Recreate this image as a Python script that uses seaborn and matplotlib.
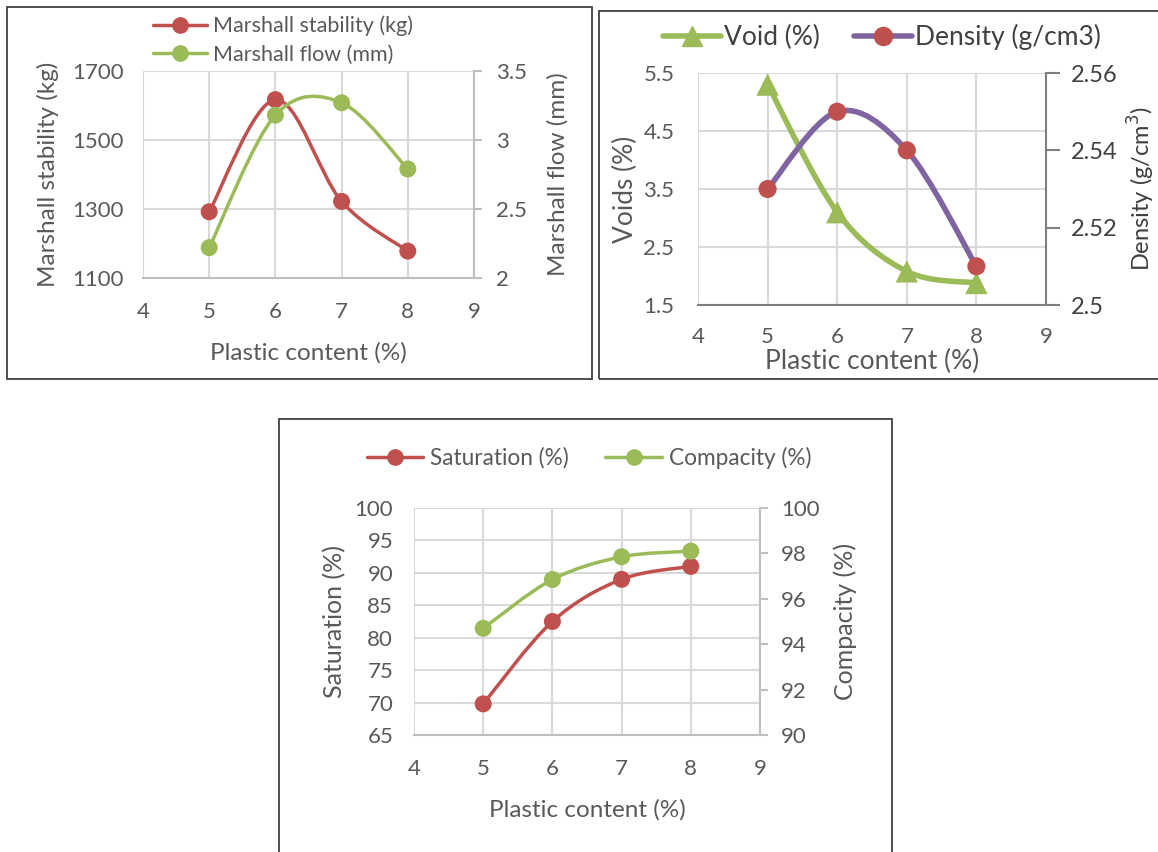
import numpy as np
import pandas as pd
import matplotlib
matplotlib.use("Agg")
import matplotlib.pyplot as plt
import seaborn as sns
from matplotlib.path import Path
from matplotlib.patches import PathPatch, Rectangle
from matplotlib.lines import Line2D

# ---- data ----
plastic = [5, 6, 7, 8]
stability = [1292, 1617, 1322, 1178]
flow = [2.22, 3.18, 3.27, 2.79]
void = [5.3, 3.1, 2.08, 1.88]
density = [2.53, 2.55, 2.54, 2.51]
saturation = [69.8, 82.5, 89.0, 91.0]
compacity = [94.7, 96.85, 97.85, 98.1]
x_ticks = [4, 5, 6, 7, 8, 9]

sns.set_theme(style="white")
plt.rcParams['font.family'] = ['Lato', 'DejaVu Sans']

RED = '#C0504D'
GREEN = '#9BBB59'
PURPLE = '#8064A2'
TXT = '#595959'
GRID = '#D9D9D9'
AX = '#BFBFBF'
DARK = '#404040'

W, H = 1158, 852
fig = plt.figure(figsize=(W / 100, H / 100), dpi=100)


def px_axes(x0, y0, x1, y1):
    return fig.add_axes([x0 / W, 1 - y1 / H, (x1 - x0) / W, (y1 - y0) / H])


def box(x0, y0, x1, y1):
    fig.patches.append(Rectangle((x0 / W, 1 - y1 / H), (x1 - x0) / W, (y1 - y0) / H,
                                 transform=fig.transFigure, fill=False,
                                 edgecolor='#404040', linewidth=1.3, zorder=0))


def smooth(ax, xs, ys, color, lw):
    # Excel-like smoothed line: cubic Bezier segments (Catmull-Rom tangents)
    P = np.column_stack([xs, ys]).astype(float)
    n = len(P)
    verts = [tuple(P[0])]
    codes = [Path.MOVETO]
    for i in range(n - 1):
        p0 = P[i - 1] if i > 0 else P[i]
        p3 = P[i + 2] if i + 2 < n else P[i + 1]
        c1 = P[i] + (P[i + 1] - p0) / 6.0
        c2 = P[i + 1] - (p3 - P[i]) / 6.0
        verts += [tuple(c1), tuple(c2), tuple(P[i + 1])]
        codes += [Path.CURVE4] * 3
    ax.add_patch(PathPatch(Path(verts, codes), facecolor='none', edgecolor=color,
                           linewidth=lw, capstyle='round', zorder=3))


def style_axes(ax, ax2, ylim, yticks, ylim2, yticks2, fs, tcol, acol,
               xpad, ypad, y2pad):
    ax.set_xlim(4, 9)
    ax.set_xticks(x_ticks)
    ax.set_ylim(*ylim)
    ax.set_yticks(yticks)
    ax2.set_ylim(*ylim2)
    ax2.set_yticks(yticks2)
    ax.grid(True, color=GRID, linewidth=1.5)
    ax.set_axisbelow(True)
    for a in (ax, ax2):
        for s in a.spines.values():
            s.set_visible(False)
        a.tick_params(labelsize=fs, colors=tcol)
    ax.spines['bottom'].set_visible(True)
    ax.spines['bottom'].set_color(acol)
    ax.spines['bottom'].set_linewidth(1.5)
    ax2.spines['right'].set_visible(True)
    ax2.spines['right'].set_color(acol)
    ax2.spines['right'].set_linewidth(1.5)
    ax.tick_params(axis='x', length=0, pad=xpad)
    ax.tick_params(axis='y', length=0, pad=ypad)
    ax2.tick_params(axis='y', length=6, width=1.5, color=acol, pad=y2pad, direction='out')


# ================= Panel 1 =================
box(7, 7, 592, 379)
ax1 = px_axes(143, 71, 474, 278)
ax1b = ax1.twinx()
df1 = pd.DataFrame({'x': plastic, 'stab': stability, 'flow': flow})
smooth(ax1, plastic, stability, RED, 2.5)
sns.scatterplot(data=df1, x='x', y='stab', ax=ax1, color=RED, s=150, edgecolor='none', zorder=4)
smooth(ax1b, plastic, flow, GREEN, 2.5)
sns.scatterplot(data=df1, x='x', y='flow', ax=ax1b, color=GREEN, s=150, edgecolor='none', zorder=4)
style_axes(ax1, ax1b, (1100, 1700), [1100, 1300, 1500, 1700], (2, 3.5), [2, 2.5, 3, 3.5],
           16, TXT, AX, xpad=17, ypad=14, y2pad=10)
ax1b.set_yticklabels(['2', '2.5', '3', '3.5'])
ax1.set_xlabel('Plastic content (%)', fontsize=17.5, color=TXT, labelpad=15)
ax1.set_ylabel('Marshall stability (kg)', fontsize=17.5, color=TXT, labelpad=9)
ax1b.set_ylabel('Marshall flow (mm)', fontsize=17.5, color=TXT, labelpad=14)
h1 = [Line2D([], [], color=RED, lw=2.5, marker='o', ms=11),
      Line2D([], [], color=GREEN, lw=2.5, marker='o', ms=11)]
fig.legend(h1, ['Marshall stability (kg)', 'Marshall flow (mm)'],
           loc='center', bbox_to_anchor=(283 / W, 1 - 40 / H), frameon=False,
           fontsize=15.5, labelcolor=TXT, handlelength=2.5, handletextpad=0.3,
           labelspacing=0.38, borderpad=0)

# ================= Panel 2 =================
box(599, 11, 1170, 379)
ax2 = px_axes(698, 73, 1046, 305)
ax2b = ax2.twinx()
df2 = pd.DataFrame({'x': plastic, 'void': void, 'dens': density})
smooth(ax2, plastic, void, GREEN, 4)
sns.scatterplot(data=df2, x='x', y='void', ax=ax2, color=GREEN, marker='^', s=260,
                edgecolor='none', zorder=4)
smooth(ax2b, plastic, density, PURPLE, 4)
sns.scatterplot(data=df2, x='x', y='dens', ax=ax2b, color=RED, s=170, edgecolor='none', zorder=4)
style_axes(ax2, ax2b, (1.5, 5.5), [1.5, 2.5, 3.5, 4.5, 5.5], (2.5, 2.56),
           [2.5, 2.52, 2.54, 2.56], 16, DARK, '#808080', xpad=16, ypad=17, y2pad=8)
ax2.set_yticklabels(['1.5', '2.5', '3.5', '4.5', '5.5'], color=TXT)
ax2.set_xticklabels([str(v) for v in x_ticks], color=TXT)
ax2b.set_yticklabels(['2.5', '2.52', '2.54', '2.56'], color=DARK, fontsize=17)
ax2b.tick_params(axis='y', length=10)
ax2.set_xlabel('Plastic content (%)', fontsize=19, color=TXT, labelpad=1)
ax2.set_ylabel('Voids (%)', fontsize=19, color=TXT, labelpad=4)
ax2b.set_ylabel('Density (g/cm$^3$)', fontsize=17, color=DARK, labelpad=6)
h2 = [Line2D([], [], color=GREEN, lw=4, marker='^', ms=15),
      Line2D([], [], color=PURPLE, lw=4, marker='o', ms=13, markerfacecolor=RED,
             markeredgecolor=RED)]
fig.legend(h2, ['Void (%)', 'Density (g/cm3)'], loc='center',
           bbox_to_anchor=(882 / W, 1 - 37 / H), frameon=False, ncol=2,
           fontsize=19, labelcolor=DARK, handlelength=2.2, handletextpad=0.1,
           columnspacing=1.3, borderpad=0)

# ================= Panel 3 =================
box(279, 419, 892, 860)
ax3 = px_axes(414, 508, 760, 735)
ax3b = ax3.twinx()
df3 = pd.DataFrame({'x': plastic, 'sat': saturation, 'comp': compacity})
smooth(ax3, plastic, saturation, RED, 2.5)
sns.scatterplot(data=df3, x='x', y='sat', ax=ax3, color=RED, s=150, edgecolor='none', zorder=4)
smooth(ax3b, plastic, compacity, GREEN, 2.5)
sns.scatterplot(data=df3, x='x', y='comp', ax=ax3b, color=GREEN, s=150, edgecolor='none', zorder=4)
style_axes(ax3, ax3b, (65, 100), list(range(65, 101, 5)), (90, 100),
           [90, 92, 94, 96, 98, 100], 16, TXT, AX, xpad=17, ypad=15, y2pad=9)
ax3.set_xlabel('Plastic content (%)', fontsize=17.5, color=TXT, labelpad=15)
ax3.set_ylabel('Saturation (%)', fontsize=18, color=TXT, labelpad=6)
ax3b.set_ylabel('Compacity (%)', fontsize=18, color=TXT, labelpad=10)
h3 = [Line2D([], [], color=RED, lw=2.5, marker='o', ms=11),
      Line2D([], [], color=GREEN, lw=2.5, marker='o', ms=11)]
fig.legend(h3, ['Saturation (%)', 'Compacity (%)'], loc='center',
           bbox_to_anchor=(589 / W, 1 - 458 / H), frameon=False, ncol=2,
           fontsize=16.3, labelcolor=TXT, handlelength=2.5, handletextpad=0.3,
           columnspacing=1.6, borderpad=0)

for a in (ax1, ax2, ax3):
    a.set_zorder(1)
for a in (ax1b, ax2b, ax3b):
    a.set_zorder(2)
    a.patch.set_visible(False)

fig.savefig('out.png', dpi=100, facecolor='white')
